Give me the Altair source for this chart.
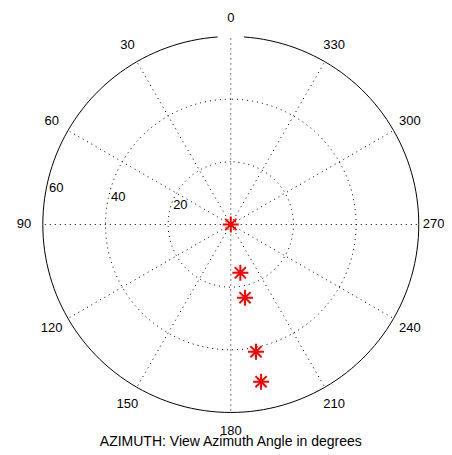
import altair as alt
import pandas as pd

# ---- data ----
azimuth_deg = [191.0, 191.2, 191.0, 191.2, 190.9]
radius_val = [0.0, 15.7, 23.8, 41.4, 51.1]

ring_radii = [20, 40, 60]
ring_style = ["dotted", "dotted", "solid"]
spoke_angles = [0, 30, 60, 90, 120, 150, 180, 210, 240, 270, 300, 330]
angle_labels = ["0", "30", "60", "90", "120", "150", "180", "210", "240", "270", "300", "330"]
radial_labels = ["20", "40", "60"]
r_max = 60
title_text = "AZIMUTH: View Azimuth Angle in degrees"

FONT = "Liberation Sans"

# ---- tables built from the lists ----
pts = pd.DataFrame({"az": azimuth_deg, "r": radius_val})

ring_rows = []
for rr, st in zip(ring_radii, ring_style):
    # the outer (solid) circle is interrupted at the very top, as in the reference
    angles = range(0, 361, 2) if st == "dotted" else range(4, 357, 2)
    for a in angles:
        ring_rows.append({"ring": rr, "style": st, "az": a, "r": rr})
rings = pd.DataFrame(ring_rows)

spoke_rows = []
for a in spoke_angles:
    spoke_rows.append({"spoke": a, "az": a, "r": 0, "k": 0})
    spoke_rows.append({"spoke": a, "az": a, "r": r_max, "k": 1})
spokes = pd.DataFrame(spoke_rows)

alabels = pd.DataFrame({"az": spoke_angles, "label": angle_labels, "r": [r_max * 1.1] * len(spoke_angles)})
rlabels = pd.DataFrame({"az": [82] * len(ring_radii), "label": radial_labels,
                        "r": [v + 1 for v in ring_radii]})
tlabel = pd.DataFrame({"label": [title_text], "x": [0.0], "y": [-70.86]})

XDOM = [-71.11, 68.05]
YDOM = [-71.66, 69.10]

xenc = alt.X("x:Q", scale=alt.Scale(domain=XDOM, nice=False, zero=False), axis=None)
yenc = alt.Y("y:Q", scale=alt.Scale(domain=YDOM, nice=False, zero=False), axis=None)


def polar(ch):
    return ch.transform_calculate(
        x="-datum.r*sin(datum.az*PI/180)",
        y="datum.r*cos(datum.az*PI/180)",
    )


dotted_rings = polar(
    alt.Chart(rings).transform_filter("datum.style == 'dotted'")
).mark_line(color="#000000", strokeWidth=1, strokeDash=[1, 4]).encode(
    x=xenc, y=yenc, detail="ring:N", order="az:Q"
)

outer_ring = polar(
    alt.Chart(rings).transform_filter("datum.style == 'solid'")
).mark_line(color="#000000", strokeWidth=1).encode(
    x=xenc, y=yenc, detail="ring:N", order="az:Q"
)

spoke_lines = polar(alt.Chart(spokes)).mark_line(
    color="#000000", strokeWidth=1, strokeDash=[1, 4]
).encode(x=xenc, y=yenc, detail="spoke:N", order="k:Q")

angle_text = polar(alt.Chart(alabels).transform_filter("datum.az != 270")).mark_text(
    font=FONT, fontSize=13, color="#000000", align="center", baseline="middle"
).encode(x=xenc, y=yenc, text="label:N")

# the 270 label sits right at the page edge; nudge it in slightly so it is not cut
angle_text_270 = polar(alt.Chart(alabels).transform_filter("datum.az == 270")).mark_text(
    font=FONT, fontSize=13, color="#000000", align="center", baseline="middle", dx=-4
).encode(x=xenc, y=yenc, text="label:N")

radial_text = polar(alt.Chart(rlabels)).mark_text(
    font=FONT, fontSize=13, color="#000000", align="left", baseline="bottom", dx=7.5, dy=-3
).encode(x=xenc, y=yenc, text="label:N")

title_mark = alt.Chart(tlabel).mark_text(
    font=FONT, fontSize=14, color="#000000", align="center", baseline="alphabetic"
).encode(x=xenc, y=yenc, text="label:N")

star = "M-1,0L1,0M0,-1L0,1M-0.7,-0.7L0.7,0.7M-0.7,0.7L0.7,-0.7"
points = polar(alt.Chart(pts)).mark_point(
    shape=star, filled=False, stroke="#ff0000", strokeWidth=2, size=256, opacity=1
).encode(x=xenc, y=yenc)

chart = alt.layer(
    spoke_lines, dotted_rings, outer_ring, angle_text, angle_text_270,
    radial_text, title_mark, points
).properties(
    width=436, height=441,
    autosize=alt.AutoSizeParams(type="none"),
    padding=0,
    background="white",
).configure_view(stroke=None)

chart.save("out.html", embed_options={"renderer": "svg", "actions": False})
